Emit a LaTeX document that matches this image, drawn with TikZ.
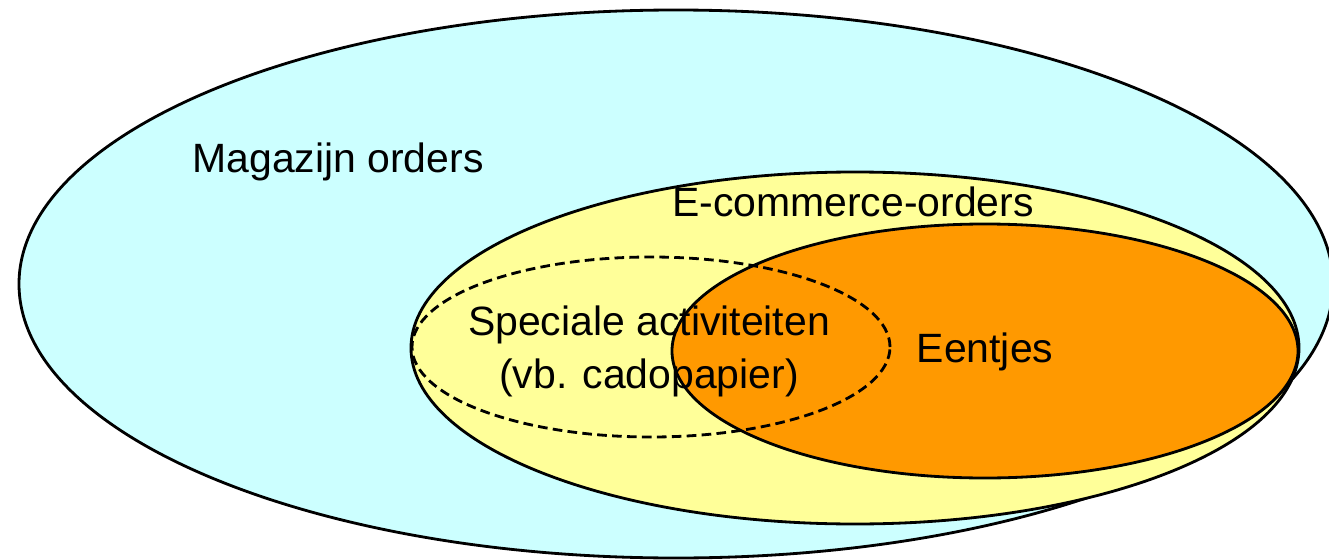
\documentclass[tikz,border=0pt]{standalone}
\usepackage{fontspec}
\setmainfont{Liberation Sans}
\usepackage{xcolor}
\usepackage{tikz}
\usetikzlibrary{positioning}
\definecolor{magcyan}{HTML}{CCFFFF}
\definecolor{ecogeel}{HTML}{FFFF99}
\definecolor{eenoranje}{HTML}{FF9900}

\begin{document}
\begin{tikzpicture}[x=0.02cm,y=0.02cm,
    set/.style={draw=black,line width=1.6pt},
    deelset/.style={draw=black,line width=1.6pt,dash pattern=on 5.5pt off 3pt},
    label/.style={font=\fontsize{23.3}{30.2}\selectfont,align=center,inner sep=0pt}]
    \clip (0,0) rectangle (1329,559);
    % Magazijn
    \filldraw[set,fill=magcyan] (676,275) ellipse [x radius=657,y radius=274];
    % E-commerce
    \filldraw[set,fill=ecogeel] (855,211) ellipse [x radius=444,y radius=176];
    % Eentjes
    \filldraw[set,fill=eenoranje] (985,208) ellipse [x radius=313,y radius=127];
    % Speciale activiteiten
    \draw[deelset] (651,212) ellipse [x radius=239,y radius=90];
    % Labels
    \node[label] (magazijn) at (338,397) {Magazijn orders};
    \node[label] (ecommerce) at (853,357) {E-commerce-orders};
    \node[label] (speciaal) at (649,208) {Speciale activiteiten\\(vb. cadopapier)};
    \node[label] (eentjes) at (985,207) {Eentjes};
\end{tikzpicture}
\end{document}
